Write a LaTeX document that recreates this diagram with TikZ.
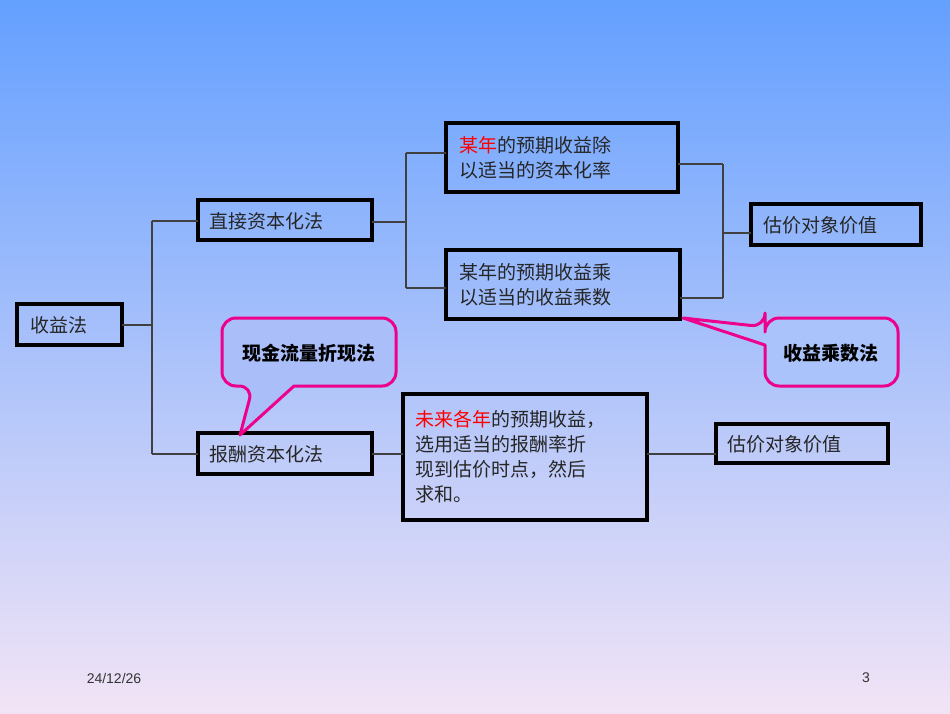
\documentclass[tikz,border=0pt]{standalone}
\usepackage{fontspec}
\setmainfont{Liberation Sans}
\newfontfamily\cjk{Noto Sans CJK SC}
\begin{document}
\begin{tikzpicture}[x=1pt,y=-1pt,
  box/.style={draw=black,line width=3.2pt,fill=none,inner sep=0pt},
  lbl/.style={font=\cjk\fontsize{19}{25}\selectfont,anchor=west,align=left,text=black!85},
  conn/.style={draw=black!75,line width=1.1pt},
  call/.style={draw=magenta,line width=3pt,rounded corners=14pt,line join=round},
  clbl/.style={font=\cjk\bfseries\fontsize{19}{25}\selectfont,text=black}]
\shade[top color={rgb,255:red,100;green,160;blue,255},bottom color={rgb,255:red,242;green,228;blue,246}] (0,0) rectangle (950,713);
\useasboundingbox (0,0) rectangle (950,713);
% boxes
\draw[box] (17,304) rectangle (122,345); \node[lbl] (syf) at (27,325) {收益法};
\coordinate (syfR) at (122,325);
\draw[box] (198,200) rectangle (372,240); \node[lbl] (zj) at (206,221) {直接资本化法};
\draw[box] (198,433) rectangle (372,474); \node[lbl] (bc) at (206,454) {报酬资本化法};
\draw[box] (446,123) rectangle (678,192); \node[lbl] (A) at (456,158) {\textcolor{red}{某年}的预期收益除\\以适当的资本化率};
\draw[box] (446,250) rectangle (680,319); \node[lbl] (B) at (456,285) {某年的预期收益乘\\以适当的收益乘数};
\draw[box] (751,204) rectangle (921,245); \node[lbl] (V1) at (760,225) {估价对象价值};
\draw[box] (403,394) rectangle (647,520); \node[lbl] (C) at (412,457) {\textcolor{red}{未来各年}的预期收益，\\选用适当的报酬率折\\现到估价时点，然后\\求和。};
\draw[box] (716,424) rectangle (888,463); \node[lbl] (V2) at (724,444) {估价对象价值};
% connectors
\coordinate (j1) at (152,325);
\draw[conn] (syfR) -- (j1) (152,221) -- (152,454) (152,221) -- (198,221) (152,454) -- (198,454);
\draw[conn] (372,222) -- (406,222) (406,153) -- (406,288) (406,153) -- (446,153) (406,288) -- (446,288);
\draw[conn] (678,164) -- (723,164) (680,298) -- (723,298) (723,164) -- (723,298) (723,233) -- (751,233);
\draw[conn] (372,454) -- (403,454) (647,454) -- (716,454);
% callouts
\draw[call,fill={rgb,255:red,170;green,190;blue,250}] (294,386) -- (396,386) -- (396,318) -- (222,318) -- (222,386) -- (253,386) [sharp corners] -- (240,435) -- (294,386) -- cycle;
\node[clbl] (k1) at (309,353) {现金流量折现法};
\draw[call,fill={rgb,255:red,170;green,195;blue,250}] (765,345) -- (765,386) -- (898,386) -- (898,318) -- (765,318) -- (765,327) [sharp corners] -- (683,318) -- (765,345) -- cycle;
\node[clbl] (k2) at (831,353) {收益乘数法};
% footer
\node[font=\fontsize{14}{16}\selectfont,text=black!80] (d) at (114,678) {24/12/26};
\node[font=\fontsize{14}{16}\selectfont,text=black!80] (p) at (866,678) {3};
\end{tikzpicture}
\end{document}
